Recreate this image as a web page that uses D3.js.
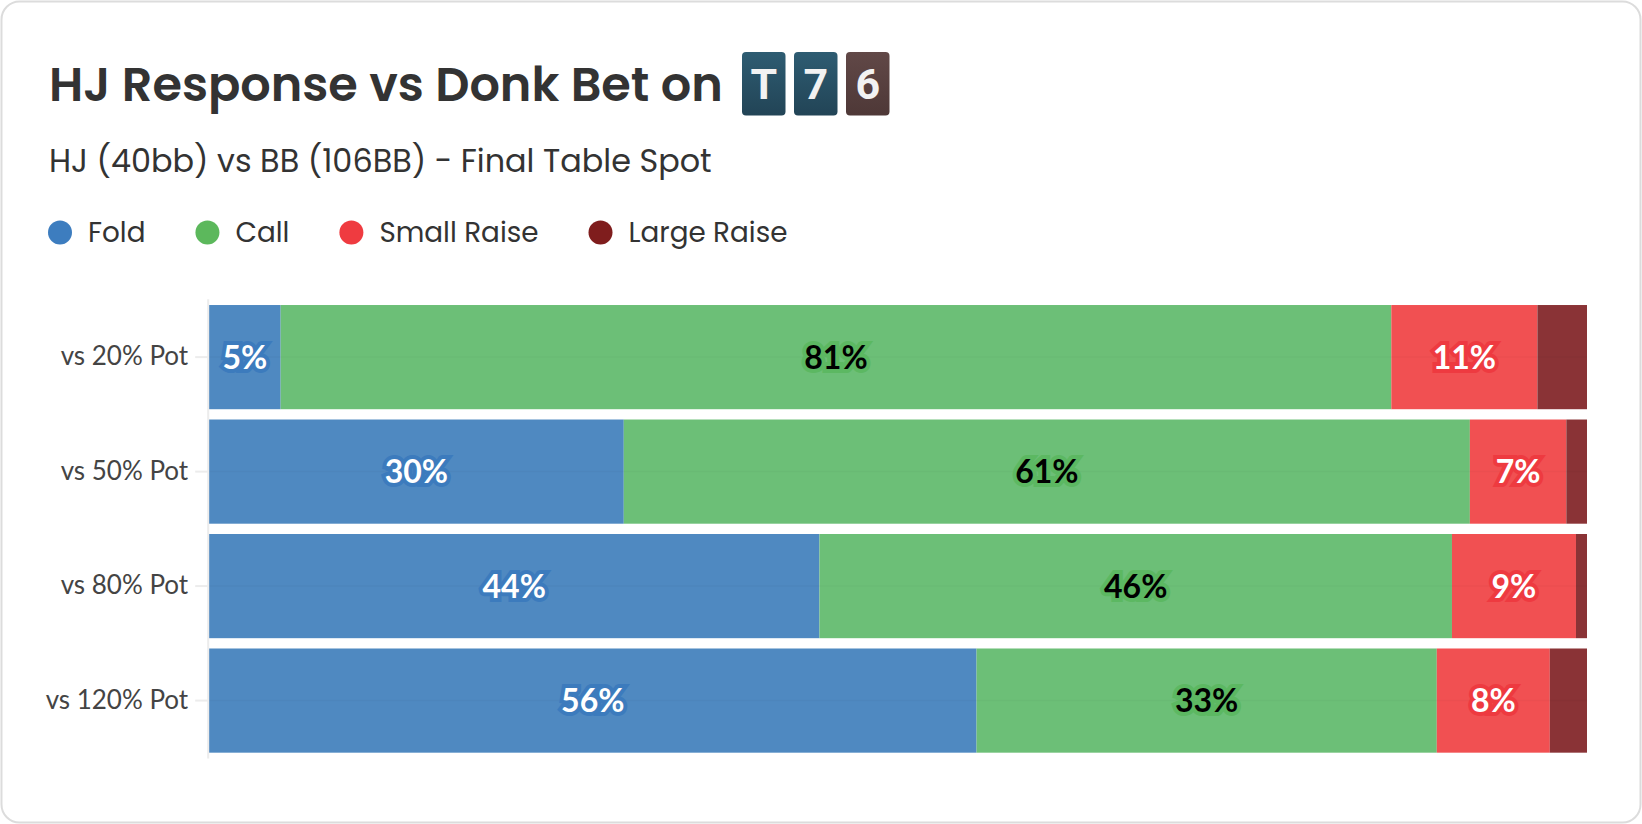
<!DOCTYPE html>
<html>
<head>
<meta charset="utf-8">
<script src="https://cdn.jsdelivr.net/npm/d3@7"></script>
<style>
  html, body { margin: 0; padding: 0; background: #ffffff; }
  svg { display: block; }
</style>
</head>
<body>
<svg id="chart" width="1642" height="824"></svg>
<script>
// ---------- data ----------
const categories = ["vs 20% Pot", "vs 50% Pot", "vs 80% Pot", "vs 120% Pot"];
const seriesNames = ["Fold", "Call", "Small Raise", "Large Raise"];
const fold       = [5.2, 30.1, 44.3, 55.7];
const call       = [80.6, 61.4, 45.9, 33.4];
const smallRaise = [10.6, 7.0, 9.0, 8.2];
const largeRaise = [3.6, 1.5, 0.8, 2.7];
const boardCards = ["T", "7", "6"];
const titleText = "HJ Response vs Donk Bet on";
const subtitleText = "HJ (40bb) vs BB (106BB) - Final Table Spot";

// ---------- styles ----------
const legendColors = ["#3d7dbf", "#5cb85c", "#ef3b40", "#7f1d1d"];
const barColors    = ["#4f89c1", "#6cbf77", "#f15052", "#8a3336"];
const haloColors   = ["#3c7bbd", "#5cb862", "#ee3a40", "#7f1d1d"];
const textColors   = ["#ffffff", "#000000", "#ffffff", "#ffffff"];
const headFont = "Poppins, Inter, 'Noto Sans', sans-serif";
const chartFont = "Lato, 'Noto Sans', sans-serif";

const rows = categories.map((c, i) => ({
  cat: c,
  Fold: fold[i], Call: call[i], "Small Raise": smallRaise[i], "Large Raise": largeRaise[i]
}));

const svg = d3.select("#chart");

// card background
svg.append("rect")
  .attr("x", 1.5).attr("y", 1.5).attr("width", 1639).attr("height", 821)
  .attr("rx", 18).attr("ry", 18)
  .attr("fill", "#ffffff").attr("stroke", "#dcdcdc").attr("stroke-width", 2);

// helper to fit text width
function fitText(sel, base, target) {
  sel.attr("font-size", base);
  const w = sel.node().getComputedTextLength();
  const size = base * target / w;
  sel.attr("font-size", size);
  return size;
}

// title
const title = svg.append("text")
  .attr("x", 49).attr("y", 101)
  .attr("font-family", headFont).attr("font-weight", 600)
  .attr("fill", "#333333")
  .text(titleText);
fitText(title, 48, 674);

// board cards
const cardW = 43.5, cardH = 63.5, cardGap = 8.5;
const defs = svg.append("defs");
const gTeal = defs.append("linearGradient").attr("id", "gTeal").attr("x1", 0).attr("y1", 0).attr("x2", 0).attr("y2", 1);
gTeal.append("stop").attr("offset", "0%").attr("stop-color", "#2e5c72");
gTeal.append("stop").attr("offset", "100%").attr("stop-color", "#224456");
const gBrown = defs.append("linearGradient").attr("id", "gBrown").attr("x1", 0).attr("y1", 0).attr("x2", 0).attr("y2", 1);
gBrown.append("stop").attr("offset", "0%").attr("stop-color", "#614847");
gBrown.append("stop").attr("offset", "100%").attr("stop-color", "#4e3837");

const cardX = d3.scaleBand().domain(boardCards.map((d, i) => i))
  .range([742, 742 + boardCards.length * cardW + (boardCards.length - 1) * cardGap])
  .paddingInner(cardGap / (cardW + cardGap));
const cards = svg.append("g").selectAll("g").data(boardCards).join("g")
  .attr("transform", (d, i) => `translate(${cardX(i)},52)`);
cards.append("rect")
  .attr("width", cardX.bandwidth()).attr("height", cardH)
  .attr("rx", 4).attr("ry", 4)
  .attr("fill", (d, i) => i < 2 ? "url(#gTeal)" : "url(#gBrown)");
cards.append("text")
  .attr("x", cardX.bandwidth() / 2).attr("y", 47)
  .attr("text-anchor", "middle")
  .attr("font-family", "Roboto, 'Liberation Sans', sans-serif")
  .attr("font-weight", 700).attr("font-size", 43)
  .attr("fill", "#f2f2f2")
  .text(d => d);

// subtitle
const subtitle = svg.append("text")
  .attr("x", 49).attr("y", 172)
  .attr("font-family", headFont).attr("font-weight", 400)
  .attr("fill", "#333333")
  .text(subtitleText);
fitText(subtitle, 28, 663);

// legend
const legendG = svg.append("g");
const probe = svg.append("text").attr("font-family", headFont).text("Large Raise");
const legendSize = fitText(probe, 26, 159);
probe.remove();
let lx = 48;
seriesNames.forEach((name, i) => {
  const g = legendG.append("g");
  g.append("circle").attr("cx", lx + 12).attr("cy", 232.5).attr("r", 12).attr("fill", legendColors[i]);
  const t = g.append("text")
    .attr("x", lx + 40).attr("y", 242)
    .attr("font-family", headFont).attr("font-weight", 400)
    .attr("font-size", legendSize)
    .attr("fill", "#333333")
    .text(name);
  lx = lx + 40 + t.node().getComputedTextLength() + 50;
});

// ---------- chart ----------
const x = d3.scaleLinear().domain([0, 100]).range([209, 1587]);
const y = d3.scaleBand().domain(categories).range([299.3, 758.4])
  .paddingInner(0.09).paddingOuter(0.05);

const stack = d3.stack().keys(seriesNames);
const stacked = stack(rows);

const layers = svg.append("g").selectAll("g").data(stacked).join("g")
  .attr("fill", (d, i) => barColors[i]);
layers.selectAll("rect").data(d => d).join("rect")
  .attr("x", d => x(d[0]))
  .attr("y", d => y(d.data.cat))
  .attr("width", d => x(d[1]) - x(d[0]))
  .attr("height", y.bandwidth());

// faint gridlines across the bars at band centres
svg.append("g").selectAll("line").data(categories).join("line")
  .attr("x1", x(0)).attr("x2", x(100))
  .attr("y1", d => y(d) + y.bandwidth() / 2)
  .attr("y2", d => y(d) + y.bandwidth() / 2)
  .attr("stroke", "#000000").attr("stroke-opacity", 0.025).attr("stroke-width", 1.5);

// y axis
const yAxis = svg.append("g")
  .attr("transform", `translate(${x(0) - 0.8},0)`)
  .call(d3.axisLeft(y).tickSize(13).tickPadding(7));
yAxis.select(".domain").attr("stroke", "#ececec").attr("stroke-width", 2)
  .attr("d", `M0,${y.range()[0]}V${y.range()[1]}`);
yAxis.selectAll(".tick line").attr("stroke", "#ececec").attr("stroke-width", 2);
yAxis.selectAll(".tick text")
  .attr("font-family", chartFont).attr("font-size", 26)
  .attr("fill", "#444444");

// value labels
const labelG = svg.append("g");
stacked.forEach((layer, si) => {
  labelG.selectAll(null).data(layer.filter(d => (d[1] - d[0]) >= 5)).join("text")
    .attr("x", d => (x(d[0]) + x(d[1])) / 2)
    .attr("y", d => y(d.data.cat) + y.bandwidth() / 2)
    .attr("dy", "0.36em")
    .attr("text-anchor", "middle")
    .attr("font-family", chartFont).attr("font-weight", 700).attr("font-size", 32)
    .attr("fill", textColors[si])
    .attr("stroke", haloColors[si]).attr("stroke-width", 8)
    .attr("stroke-linejoin", "miter")
    .attr("paint-order", "stroke")
    .text(d => Math.round(d[1] - d[0]) + "%");
});
</script>
</body>
</html>
